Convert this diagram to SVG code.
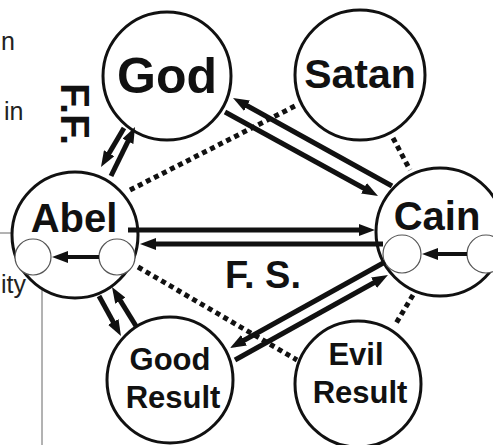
<svg xmlns="http://www.w3.org/2000/svg" width="493" height="445" viewBox="0 0 493 445">
<style>
.node{fill:none;stroke:#111;stroke-width:3}
.sub{fill:#fff;stroke:#555;stroke-width:1.2}
.lbl{font-family:"Liberation Sans",Arial,sans-serif;font-weight:bold;fill:#111;text-anchor:middle}
.side{font-family:"Liberation Sans",Arial,sans-serif;fill:#222;font-size:25px}
.arr{stroke:#111;stroke-width:5;fill:none;marker-end:url(#ah)}
.arrs{stroke:#111;stroke-width:4;fill:none;marker-end:url(#ah)}
.dot{stroke:#111;stroke-width:5;stroke-dasharray:5 4;fill:none}
.thin{stroke:#666;stroke-width:1;fill:none}
</style>
<defs>
<marker id="ah" markerUnits="userSpaceOnUse" markerWidth="17" markerHeight="12" refX="3" refY="6" orient="auto">
<path d="M0,0 L16,6 L0,12 z" fill="#111"/>
</marker>
</defs>
<rect width="493" height="445" fill="#fff"/>
<g id="margin">
<line class="thin" x1="0" y1="233" x2="13" y2="233"/>
<line class="thin" x1="42" y1="290" x2="42" y2="445"/>
<text class="side" x="1" y="50" font-size="22">n</text>
<text class="side" x="4" y="120">in</text>
<text class="side" x="1" y="293">ity</text>
</g>
<g id="god"><circle class="node" cx="167" cy="76" r="64"/><text class="lbl" x="167" y="93" font-size="50">God</text></g>
<g id="satan"><circle class="node" cx="360" cy="75" r="65"/><text class="lbl" x="360" y="88" font-size="41">Satan</text></g>
<g id="abel"><circle class="node" cx="75" cy="235" r="63"/><text class="lbl" x="74" y="232" font-size="40">Abel</text>
<circle class="sub" cx="33" cy="257" r="18"/><circle class="sub" cx="117" cy="257" r="18"/></g>
<g id="cain"><circle class="node" cx="440" cy="232" r="64"/><text class="lbl" x="437" y="230" font-size="40">Cain</text>
<circle class="sub" cx="402" cy="254" r="19"/><circle class="sub" cx="486" cy="254" r="19"/></g>
<g id="good"><circle class="node" cx="170" cy="380" r="63"/><text class="lbl" x="170" y="370" font-size="31">Good</text><text class="lbl" x="173" y="408" font-size="31">Result</text></g>
<g id="evil"><circle class="node" cx="358" cy="384" r="63"/><text class="lbl" x="356" y="365" font-size="31">Evil</text><text class="lbl" x="360" y="403" font-size="31">Result</text></g>
<g id="connectors">
<line class="arr" x1="124" y1="128" x2="107.6" y2="155.8"/>
<line class="arr" x1="111" y1="176" x2="129.3" y2="138.7"/>
<line class="arr" x1="128" y1="230" x2="362" y2="230"/>
<line class="arr" x1="383" y1="244" x2="153" y2="244"/>
<line class="arr" x1="225" y1="112" x2="366.6" y2="189.7"/>
<line class="arr" x1="392" y1="186" x2="244.4" y2="104.3"/>
<line class="arr" x1="99" y1="296" x2="114.7" y2="324.6"/>
<line class="arr" x1="136" y1="326" x2="118.8" y2="298.1"/>
<line class="arr" x1="385" y1="262" x2="241.4" y2="341.7"/>
<line class="arr" x1="235" y1="360" x2="376.6" y2="281.3"/>
<line class="arrs" x1="99" y1="257" x2="65" y2="257"/>
<line class="arrs" x1="467" y1="254" x2="435" y2="254"/>
<line class="dot" x1="130" y1="190" x2="295" y2="106"/>
<line class="dot" x1="393" y1="138" x2="410" y2="170"/>
<line class="dot" x1="138" y1="267" x2="297" y2="360"/>
<line class="dot" x1="413" y1="295" x2="395" y2="325"/>
</g>
<g id="labels">
<text class="lbl" x="225" y="288" font-size="38" style="text-anchor:start">F. S.</text>
<text class="lbl" font-size="40" style="text-anchor:start" transform="translate(61,83) rotate(90)">F.F.</text>
</g>
</svg>
